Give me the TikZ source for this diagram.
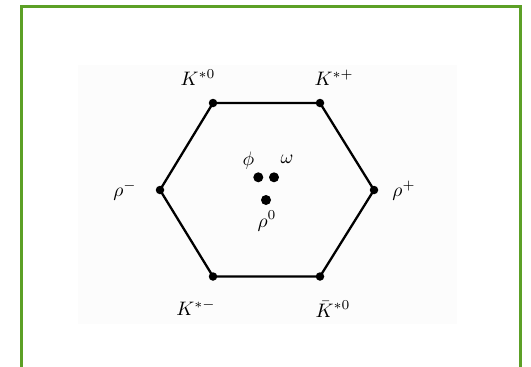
\documentclass[tikz,border=0pt]{standalone}
\begin{document}
\begin{tikzpicture}[x=1pt,y=-1pt,
  vdot/.style={circle,fill=black,inner sep=0pt,minimum size=8.5pt},
  cdot/.style={circle,fill=black,inner sep=0pt,minimum size=10pt},
  lbl/.style={inner sep=0pt,scale=1.95},
  edge/.style={line width=2.3pt}]
\useasboundingbox (0,0) rectangle (531,367);
\fill[white] (0,0) rectangle (531,367);
\fill[black!1.2] (78,65) rectangle (457,324);
\definecolor{frame}{RGB}{92,160,38}
\draw[frame,line width=3pt] (21,380) -- (21,6) -- (520.5,6) -- (520.5,380);
% vertices
\node[vdot] (a) at (213,103) {};
\node[vdot] (b) at (320,103) {};
\node[vdot] (c) at (374,190) {};
\node[vdot] (d) at (320,276.5) {};
\node[vdot] (e) at (213,276.5) {};
\node[vdot] (f) at (160,190) {};
\draw[edge] (a.center) -- (b.center) -- (c.center) -- (d.center) -- (e.center) -- (f.center) -- cycle;
% central dots
\node[cdot] (phi) at (258.3,177.3) {};
\node[cdot] (om) at (274,177.3) {};
\node[cdot] (r0) at (266,200) {};
% labels
\node[lbl] (la) at (198,78) {$K^{*0}$};
\node[lbl] (lb) at (334,78) {$K^{*+}$};
\node[lbl] (lf) at (125,191) {$\rho^{-}$};
\node[lbl] (lc) at (404,191) {$\rho^{+}$};
\node[lbl] (le) at (196,308) {$K^{*-}$};
\node[lbl] (ld) at (333,309) {$\bar{K}^{*0}$};
\node[lbl] (lphi) at (248.5,161) {$\phi$};
\node[lbl] (lom) at (287,159) {$\omega$};
\node[lbl] (lr0) at (267,221) {$\rho^{0}$};
\end{tikzpicture}
\end{document}
